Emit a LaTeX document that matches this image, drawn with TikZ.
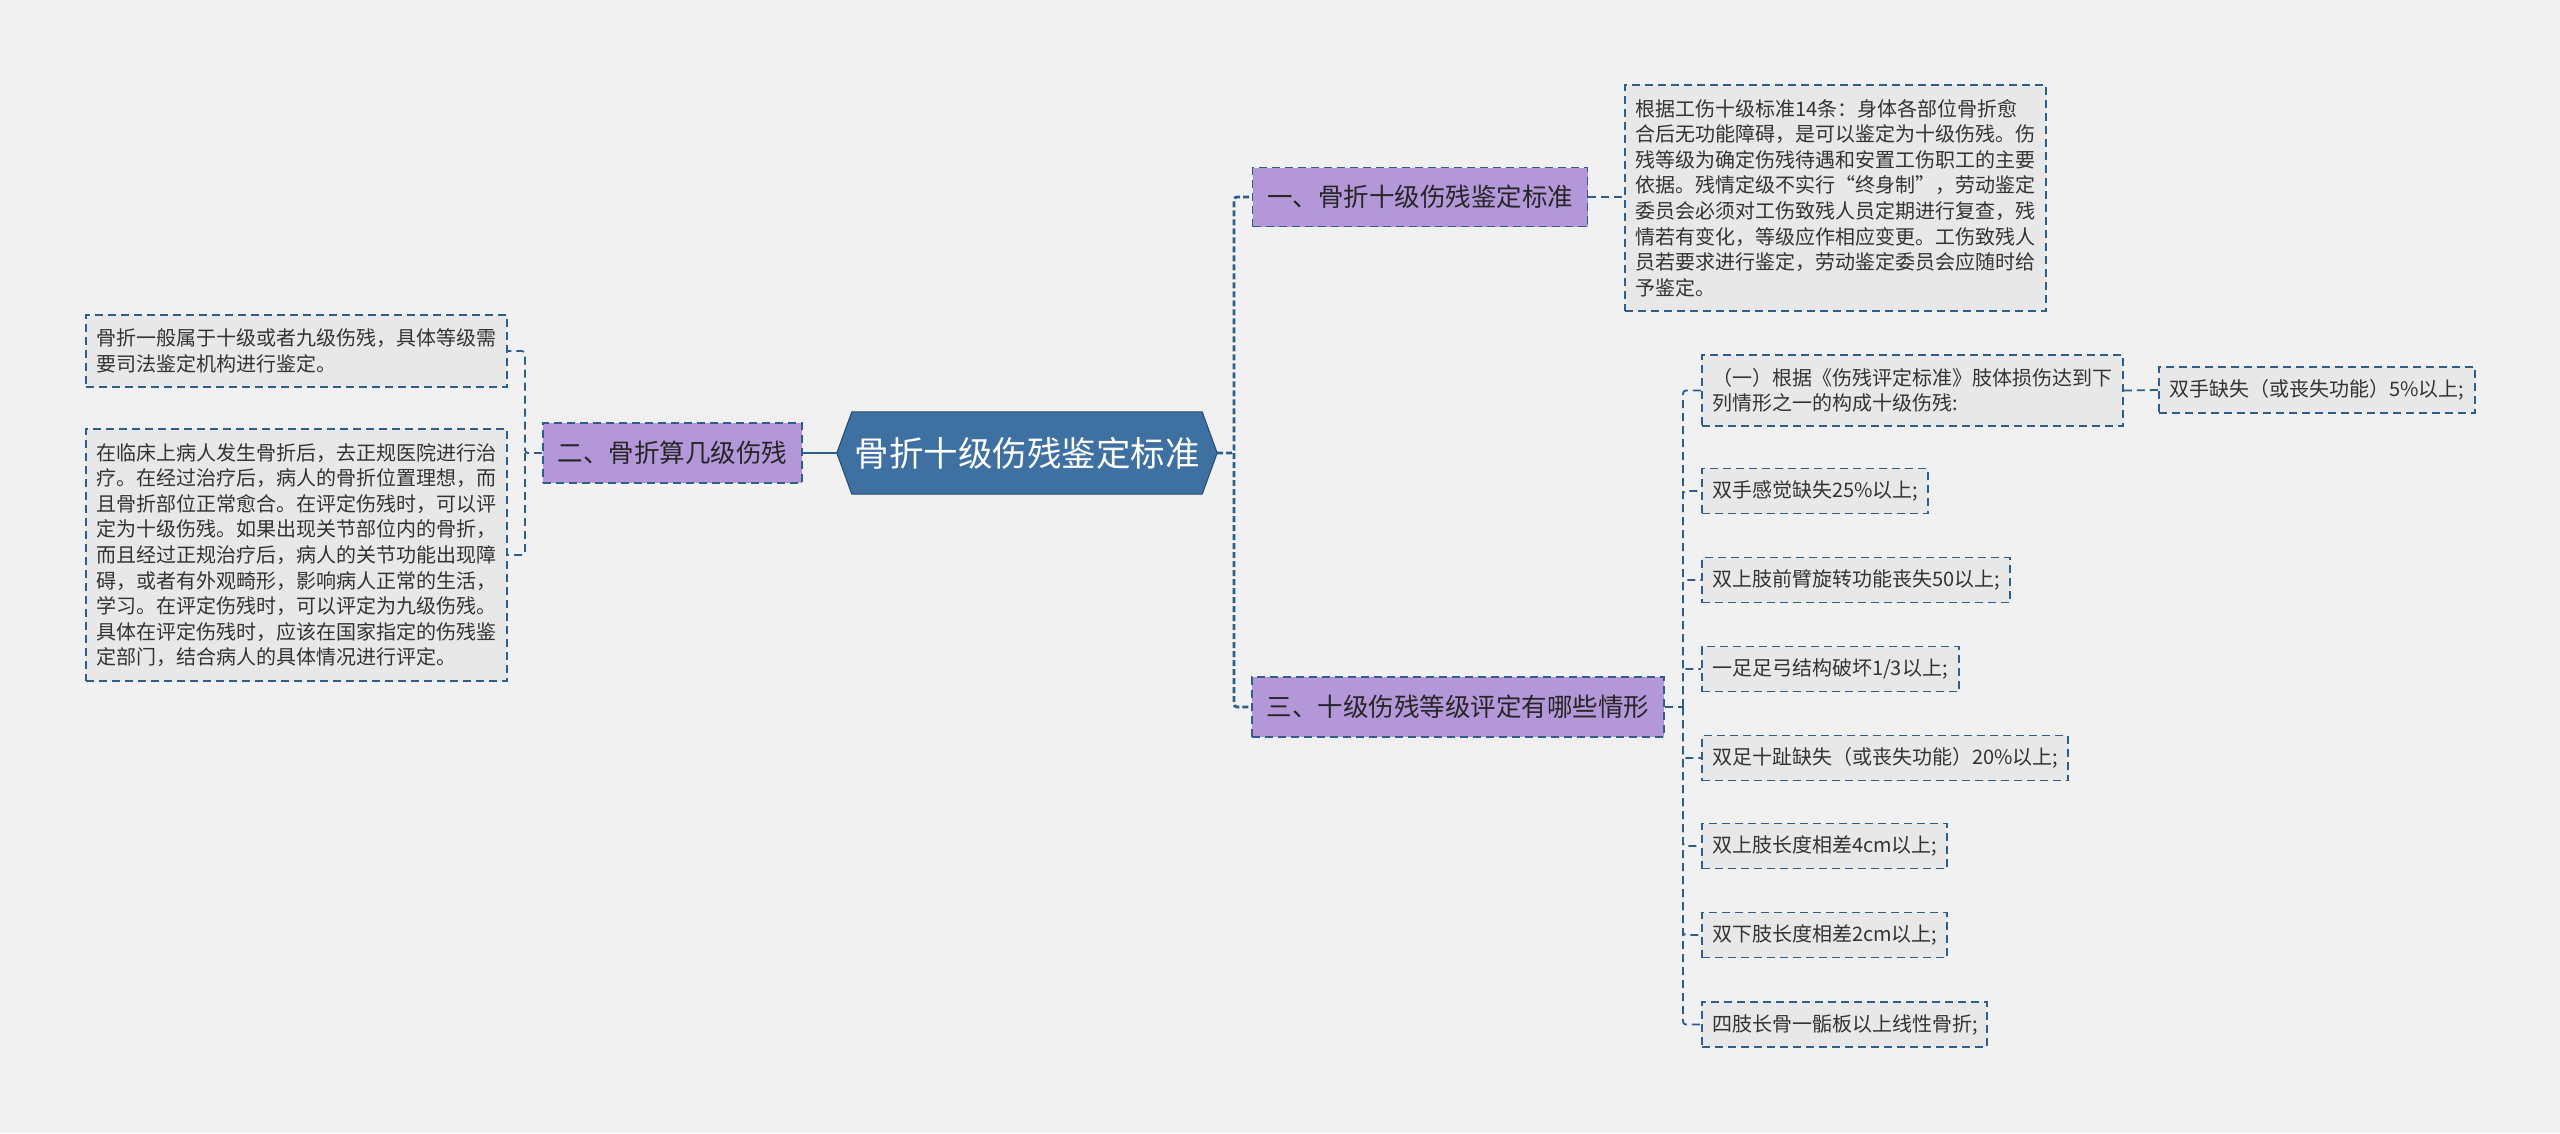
\documentclass[tikz,border=0pt]{standalone}
\usepackage{fontspec}
\setmainfont{Noto Sans CJK SC}
\usetikzlibrary{calc}
\definecolor{bgc}{HTML}{F1F1F1}
\definecolor{linec}{HTML}{2E5E8C}
\definecolor{hexc}{HTML}{3E70A2}
\definecolor{purp}{HTML}{B497D9}
\definecolor{boxfill}{HTML}{E8E8E8}
\definecolor{txtc}{HTML}{333333}
\tikzset{
  conn/.style={draw=linec, line width=1.8pt, dash pattern=on 8pt off 5pt, rounded corners=3pt},
  trunk/.style={draw=linec, line width=2.8pt, dash pattern=on 6pt off 3pt, rounded corners=3pt},
  tbox/.style={draw=linec, line width=1.8pt, dash pattern=on 8pt off 5pt, fill=boxfill,
    text=txtc, align=left, inner xsep=10pt, inner ysep=0pt,
    font=\fontsize{20}{25.6}\selectfont},
  bbox/.style={draw=linec, line width=1.8pt, dash pattern=on 8pt off 5pt, fill=purp,
    text=black!85, inner sep=0pt, font=\fontsize{25.5}{30}\selectfont}
}
\begin{document}
\begin{tikzpicture}[x=1pt,y=-1pt]
\useasboundingbox (0,0) rectangle (2560,1133);
\fill[bgc] (0,0) rectangle (2560,1133);

% central hexagon
\node[minimum width=380pt, minimum height=82pt, inner sep=0pt] (hex) at (1027,453) {};
\fill[hexc, draw=linec!80!black, line width=1pt]
  (hex.west) -- ($(hex.north west)+(15,0)$) -- ($(hex.north east)+(-15,0)$) -- (hex.east)
  -- ($(hex.south east)+(-15,0)$) -- ($(hex.south west)+(15,0)$) -- cycle;
\node[text=white, font=\fontsize{34.5}{38}\selectfont] (hext) at (hex.center) {骨折十级伤残鉴定标准};

% branches
\node[bbox, minimum width=335pt, minimum height=59pt] (b1) at (1420,197) {一、骨折十级伤残鉴定标准};
\node[bbox, minimum width=412pt, minimum height=60pt] (b3) at (1458,707) {三、十级伤残等级评定有哪些情形};
\node[bbox, minimum width=259pt, minimum height=60pt] (b2) at (672.5,453) {二、骨折算几级伤残};

% text boxes
\node[tbox, text width=401pt, minimum height=226pt] (t1) at (1835.5,198)
 {根据工伤十级标准14条：身体各部位骨折愈\\合后无功能障碍，是可以鉴定为十级伤残。伤\\残等级为确定伤残待遇和安置工伤职工的主要\\依据。残情定级不实行“终身制”，劳动鉴定\\委员会必须对工伤致残人员定期进行复查，残\\情若有变化，等级应作相应变更。工伤致残人\\员若要求进行鉴定，劳动鉴定委员会应随时给\\予鉴定。};

\node[tbox, text width=401pt, minimum height=72pt] (la) at (296.5,351)
 {骨折一般属于十级或者九级伤残，具体等级需\\要司法鉴定机构进行鉴定。};
\node[tbox, text width=401pt, minimum height=252pt] (lb) at (296.5,555)
 {在临床上病人发生骨折后，去正规医院进行治\\疗。在经过治疗后，病人的骨折位置理想，而\\且骨折部位正常愈合。在评定伤残时，可以评\\定为十级伤残。如果出现关节部位内的骨折，\\而且经过正规治疗后，病人的关节功能出现障\\碍，或者有外观畸形，影响病人正常的生活，\\学习。在评定伤残时，可以评定为九级伤残。\\具体在评定伤残时，应该在国家指定的伤残鉴\\定部门，结合病人的具体情况进行评定。};

\node[tbox, text width=401pt, minimum height=71pt] (c1) at (1912.5,390.5)
 {（一）根据《伤残评定标准》肢体损伤达到下\\列情形之一的构成十级伤残:};
\node[tbox, text width=296pt, minimum height=46pt] (c1r) at (2317,390) {双手缺失（或丧失功能）5\%以上;};
\node[tbox, text width=206pt, minimum height=45pt] (c2) at (1815,491) {双手感觉缺失25\%以上;};
\node[tbox, text width=288pt, minimum height=45pt] (c3) at (1856,580) {双上肢前臂旋转功能丧失50以上;};
\node[tbox, text width=237pt, minimum height=45pt] (c4) at (1830.5,669) {一足足弓结构破坏1/3以上;};
\node[tbox, text width=346pt, minimum height=45pt] (c5) at (1885,758) {双足十趾缺失（或丧失功能）20\%以上;};
\node[tbox, text width=225pt, minimum height=45pt] (c6) at (1824.5,846) {双上肢长度相差4cm以上;};
\node[tbox, text width=225pt, minimum height=45pt] (c7) at (1824.5,935) {双下肢长度相差2cm以上;};
\node[tbox, text width=265pt, minimum height=45pt] (c8) at (1844.5,1024.5) {四肢长骨一骺板以上线性骨折;};

% connectors
\coordinate (jr) at (1234,453);
\draw[trunk] (hex.east) -- (jr) |- (b1.west);
\draw[trunk] (jr) |- (b3.west);
\draw[draw=linec, line width=2.2pt] (hex.west) -- (b2.east);
\coordinate (jl) at (525,453);
\draw[conn] (b2.west) -- (jl) |- (la.east);
\draw[conn] (jl) |- (lb.east);
\draw[conn] (b1.east) -- (b1.east -| t1.west);
\coordinate (j3) at (1683,707);
\draw[conn] (b3.east) -- (j3);
\foreach \c in {c1,c2,c3,c4,c5,c6,c7,c8} {
  \draw[conn] (j3) |- (\c.west);
}
\draw[conn] (c1.east) -- (c1r.west);
\end{tikzpicture}
\end{document}
